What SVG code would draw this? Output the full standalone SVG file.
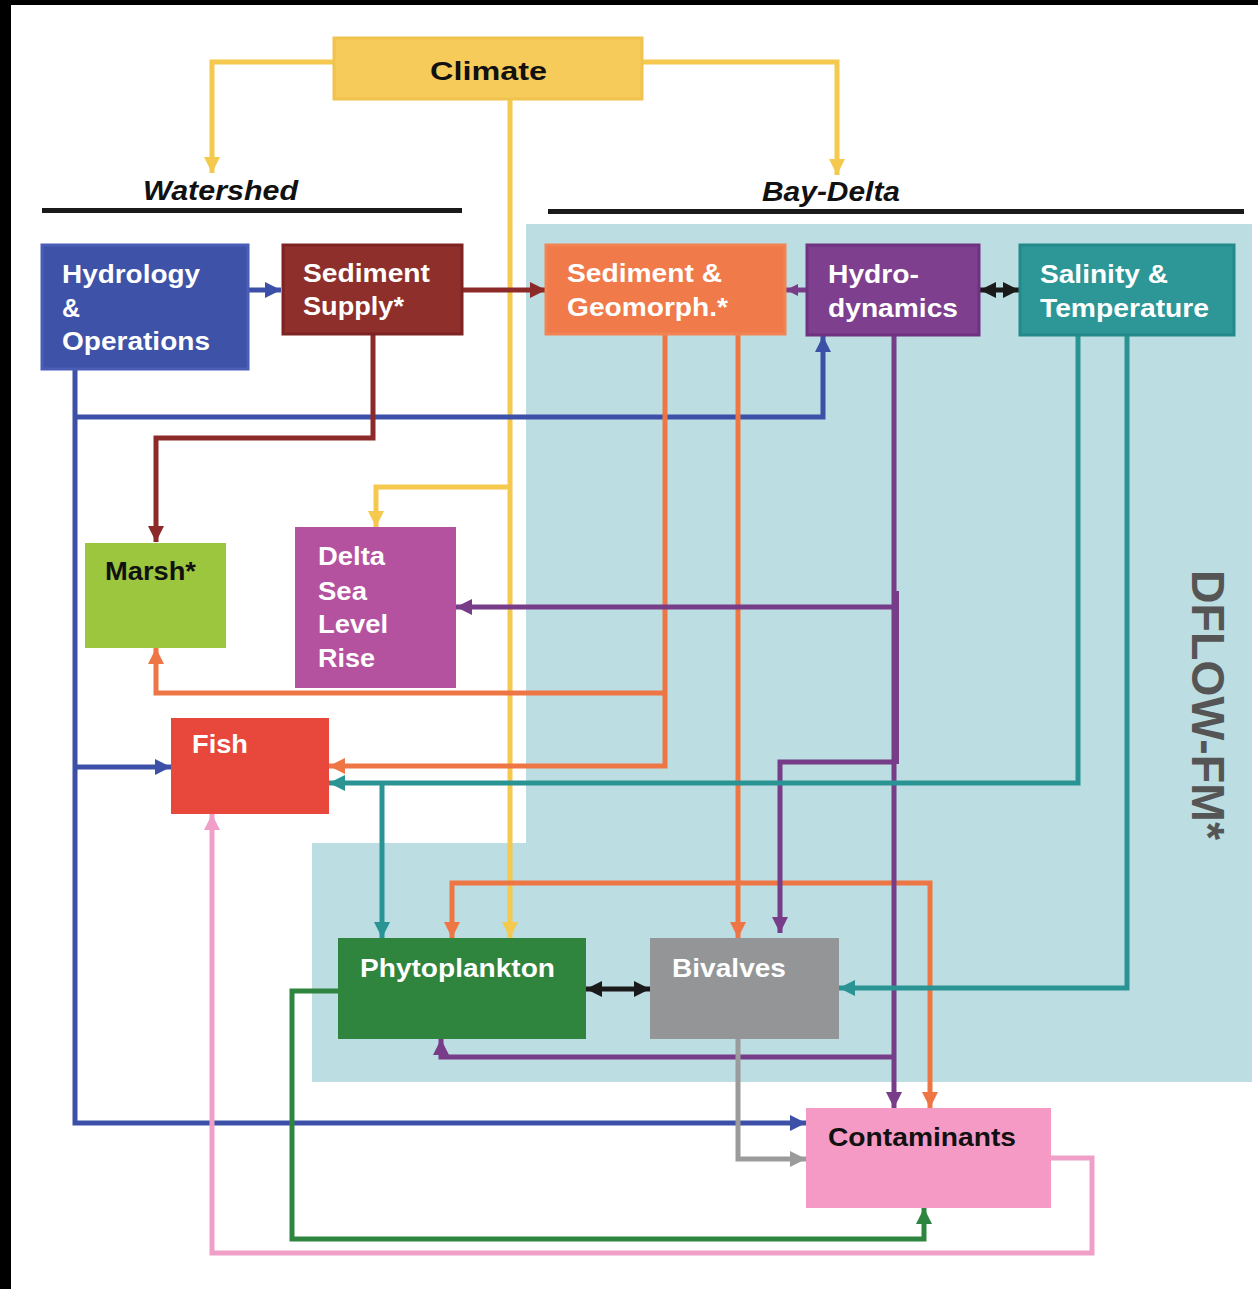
<svg xmlns="http://www.w3.org/2000/svg" width="1258" height="1289" viewBox="0 0 1258 1289">
<style>
.lbl{font-family:"Liberation Sans",Arial,sans-serif;font-weight:bold;font-size:25px;fill:#ffffff}
.dark{fill:#111111}
.hdr{font-family:"Liberation Sans",Arial,sans-serif;font-weight:bold;font-style:italic;font-size:28px;fill:#111111}
.c{fill:none;stroke-width:5;stroke-linejoin:miter}
.y{stroke:#F5C84E}.b{stroke:#3C50A8}.m{stroke:#8B2A28}.o{stroke:#EE7645}.p{stroke:#773D88}.t{stroke:#2A9394}.k{stroke:#F0A0C8}.g{stroke:#2E8540}.gr{stroke:#9B9B9B}.bl{stroke:#1A1A1A}
</style>
<defs>
<marker id="aY" viewBox="0 0 16 16" refX="16" refY="8" markerWidth="16" markerHeight="16" markerUnits="userSpaceOnUse" orient="auto"><path d="M0,0 L16,8 L0,16 z" fill="#F5C84E"/></marker>
<marker id="aB" viewBox="0 0 16 16" refX="16" refY="8" markerWidth="16" markerHeight="16" markerUnits="userSpaceOnUse" orient="auto"><path d="M0,0 L16,8 L0,16 z" fill="#3C50A8"/></marker>
<marker id="aM" viewBox="0 0 16 16" refX="16" refY="8" markerWidth="16" markerHeight="16" markerUnits="userSpaceOnUse" orient="auto"><path d="M0,0 L16,8 L0,16 z" fill="#8B2A28"/></marker>
<marker id="aO" viewBox="0 0 16 16" refX="16" refY="8" markerWidth="16" markerHeight="16" markerUnits="userSpaceOnUse" orient="auto"><path d="M0,0 L16,8 L0,16 z" fill="#EE7645"/></marker>
<marker id="aP" viewBox="0 0 16 16" refX="16" refY="8" markerWidth="16" markerHeight="16" markerUnits="userSpaceOnUse" orient="auto"><path d="M0,0 L16,8 L0,16 z" fill="#773D88"/></marker>
<marker id="aPs" viewBox="0 0 16 16" refX="16" refY="8" markerWidth="12" markerHeight="12" markerUnits="userSpaceOnUse" orient="auto"><path d="M0,0 L16,8 L0,16 z" fill="#773D88"/></marker>
<marker id="aT" viewBox="0 0 16 16" refX="16" refY="8" markerWidth="16" markerHeight="16" markerUnits="userSpaceOnUse" orient="auto"><path d="M0,0 L16,8 L0,16 z" fill="#2A9394"/></marker>
<marker id="aK" viewBox="0 0 16 16" refX="16" refY="8" markerWidth="16" markerHeight="16" markerUnits="userSpaceOnUse" orient="auto"><path d="M0,0 L16,8 L0,16 z" fill="#F0A0C8"/></marker>
<marker id="aG" viewBox="0 0 16 16" refX="16" refY="8" markerWidth="16" markerHeight="16" markerUnits="userSpaceOnUse" orient="auto"><path d="M0,0 L16,8 L0,16 z" fill="#2E8540"/></marker>
<marker id="aGr" viewBox="0 0 16 16" refX="16" refY="8" markerWidth="16" markerHeight="16" markerUnits="userSpaceOnUse" orient="auto"><path d="M0,0 L16,8 L0,16 z" fill="#9B9B9B"/></marker>
<marker id="aK2" viewBox="0 0 16 16" refX="16" refY="8" markerWidth="16" markerHeight="16" markerUnits="userSpaceOnUse" orient="auto-start-reverse"><path d="M0,0 L16,8 L0,16 z" fill="#1A1A1A"/></marker>
</defs>
<rect x="0" y="0" width="1258" height="1289" fill="#ffffff"/>
<rect x="0" y="0" width="1258" height="5" fill="#000000"/>
<rect x="0" y="0" width="11" height="1289" fill="#000000"/>

<g id="dflow-panel">
<path d="M526,224 H1252 V1082 H312 V843 H526 Z" fill="#BCDDE1"/>
<text transform="translate(1192,570) rotate(90)" font-family="Liberation Sans, Arial, sans-serif" font-weight="bold" font-size="46" fill="#555555" textLength="270" lengthAdjust="spacingAndGlyphs">DFLOW-FM*</text>
</g>

<g id="headers">
<text class="hdr" x="143" y="200" textLength="155" lengthAdjust="spacingAndGlyphs">Watershed</text>
<rect x="42" y="208" width="420" height="5" fill="#1A1A1A"/>
<text class="hdr" x="762" y="201" textLength="138" lengthAdjust="spacingAndGlyphs">Bay-Delta</text>
<rect x="548" y="209" width="696" height="5" fill="#1A1A1A"/>
</g>

<g id="connectors">
<path class="c y" d="M333,62 H212 V173" marker-end="url(#aY)"/>
<path class="c y" d="M643,62 H837 V175" marker-end="url(#aY)"/>
<path class="c y" d="M510,100 V938" marker-end="url(#aY)"/>
<path class="c y" d="M510,487 H376 V527" marker-end="url(#aY)"/>

<path class="c b" d="M249,290 H281" marker-end="url(#aB)"/>
<path class="c b" d="M75,370 V1123 H806" marker-end="url(#aB)"/>
<path class="c b" d="M75,417 H823 V336" marker-end="url(#aB)"/>
<path class="c b" d="M75,767 H171" marker-end="url(#aB)"/>

<path class="c m" d="M463,290 H546" marker-end="url(#aM)"/>
<path class="c m" d="M373,335 V438 H156 V542" marker-end="url(#aM)"/>

<path class="c p" d="M806,290 H786" marker-end="url(#aPs)"/>
<path class="c bl" d="M980,290 H1019" marker-start="url(#aK2)" marker-end="url(#aK2)"/>

<path class="c o" d="M665,335 V766 H329" marker-end="url(#aO)"/>
<path class="c o" d="M665,693 H156 V648" marker-end="url(#aO)"/>
<path class="c o" d="M738,335 V938" marker-end="url(#aO)"/>
<path class="c o" d="M738,883 H452 V938" marker-end="url(#aO)"/>
<path class="c o" d="M738,883 H930 V1108" marker-end="url(#aO)"/>

<path class="c p" d="M894,336 V1108" marker-end="url(#aP)"/>
<rect x="893" y="591" width="6" height="173" fill="#773D88"/>
<path class="c p" d="M896,607 H456" marker-end="url(#aP)"/>
<path class="c p" d="M896,762 H780 V933" marker-end="url(#aP)"/>
<path class="c p" d="M894,1057 H441 V1039" marker-end="url(#aP)"/>

<path class="c t" d="M1078,336 V783 H329" marker-end="url(#aT)"/>
<path class="c t" d="M382,783 V938" marker-end="url(#aT)"/>
<path class="c t" d="M1127,336 V988 H839" marker-end="url(#aT)"/>

<path class="c bl" d="M586,989 H650" marker-start="url(#aK2)" marker-end="url(#aK2)"/>

<path class="c g" d="M338,991 H292 V1239 H924 V1208" marker-end="url(#aG)"/>
<path class="c k" d="M1051,1158 H1092 V1253 H212 V814" marker-end="url(#aK)"/>
<path class="c gr" d="M738,1039 V1159 H806" marker-end="url(#aGr)"/>
</g>

<g id="climate">
<rect x="334" y="38" width="308" height="61" fill="#F7CB5A" stroke="#F0C24E" stroke-width="3"/>
<text class="lbl dark" x="430" y="80" font-size="30" textLength="117" lengthAdjust="spacingAndGlyphs">Climate</text>
</g>

<g id="hydrology">
<rect x="42" y="245" width="206" height="124" fill="#3E52A8" stroke="#4A5EB8" stroke-width="3"/>
<text class="lbl" x="62" y="283" textLength="138" lengthAdjust="spacingAndGlyphs">Hydrology</text>
<text class="lbl" x="62" y="317">&amp;</text>
<text class="lbl" x="62" y="350" textLength="148" lengthAdjust="spacingAndGlyphs">Operations</text>
</g>

<g id="sediment-supply">
<rect x="283" y="245" width="179" height="89" fill="#8E2F2C" stroke="#7E2321" stroke-width="3"/>
<text class="lbl" x="303" y="282" textLength="127" lengthAdjust="spacingAndGlyphs">Sediment</text>
<text class="lbl" x="303" y="315" textLength="101" lengthAdjust="spacingAndGlyphs">Supply*</text>
</g>

<g id="sediment-geomorph">
<rect x="546" y="245" width="239" height="89" fill="#F07A4A" stroke="#F28352" stroke-width="3"/>
<text class="lbl" x="567" y="282" textLength="155" lengthAdjust="spacingAndGlyphs">Sediment &amp;</text>
<text class="lbl" x="567" y="316" textLength="161" lengthAdjust="spacingAndGlyphs">Geomorph.*</text>
</g>

<g id="hydrodynamics">
<rect x="807" y="245" width="172" height="90" fill="#7D3F8E" stroke="#6E3280" stroke-width="3"/>
<text class="lbl" x="828" y="283" textLength="91" lengthAdjust="spacingAndGlyphs">Hydro-</text>
<text class="lbl" x="828" y="317" textLength="130" lengthAdjust="spacingAndGlyphs">dynamics</text>
</g>

<g id="salinity-temperature">
<rect x="1020" y="245" width="214" height="90" fill="#2D9797" stroke="#24898A" stroke-width="3"/>
<text class="lbl" x="1040" y="283" textLength="128" lengthAdjust="spacingAndGlyphs">Salinity &amp;</text>
<text class="lbl" x="1040" y="317" textLength="169" lengthAdjust="spacingAndGlyphs">Temperature</text>
</g>

<g id="marsh">
<rect x="85" y="543" width="141" height="105" fill="#9CC63E"/>
<text class="lbl dark" x="105" y="580" textLength="91" lengthAdjust="spacingAndGlyphs">Marsh*</text>
</g>

<g id="delta-slr">
<rect x="295" y="527" width="161" height="161" fill="#B5529F"/>
<text class="lbl" x="318" y="565" textLength="67" lengthAdjust="spacingAndGlyphs">Delta</text>
<text class="lbl" x="318" y="600" textLength="49" lengthAdjust="spacingAndGlyphs">Sea</text>
<text class="lbl" x="318" y="633" textLength="70" lengthAdjust="spacingAndGlyphs">Level</text>
<text class="lbl" x="318" y="667" textLength="57" lengthAdjust="spacingAndGlyphs">Rise</text>
</g>

<g id="fish">
<rect x="171" y="718" width="158" height="96" fill="#E8473C"/>
<text class="lbl" x="192" y="753" textLength="56" lengthAdjust="spacingAndGlyphs">Fish</text>
</g>

<g id="phytoplankton">
<rect x="338" y="938" width="248" height="101" fill="#2F843E"/>
<text class="lbl" x="360" y="977" textLength="195" lengthAdjust="spacingAndGlyphs">Phytoplankton</text>
</g>

<g id="bivalves">
<rect x="650" y="938" width="189" height="101" fill="#939597"/>
<text class="lbl" x="672" y="977" textLength="114" lengthAdjust="spacingAndGlyphs">Bivalves</text>
</g>

<g id="contaminants">
<rect x="806" y="1108" width="245" height="100" fill="#F49AC5"/>
<text class="lbl dark" x="828" y="1146" textLength="188" lengthAdjust="spacingAndGlyphs">Contaminants</text>
</g>
</svg>
